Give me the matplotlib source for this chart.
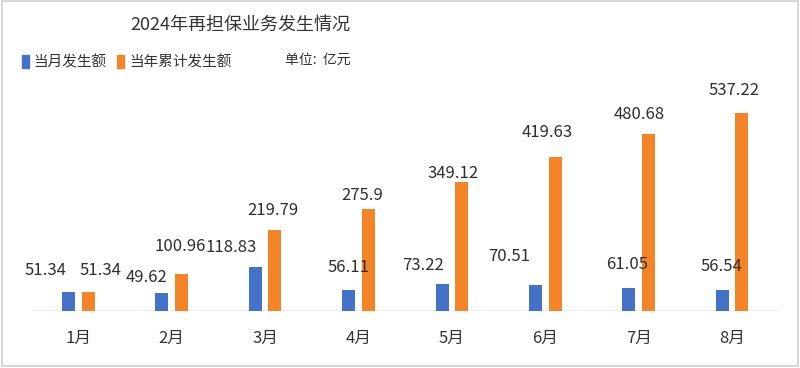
import numpy as np
import matplotlib.pyplot as plt
from matplotlib.patches import Rectangle

plt.rcParams['font.family'] = ['Noto Sans CJK SC', 'DejaVu Sans']

months = ['1月', '2月', '3月', '4月', '5月', '6月', '7月', '8月']
monthly = [51.34, 49.62, 118.83, 56.11, 73.22, 70.51, 61.05, 56.54]
cumulative = [51.34, 100.96, 219.79, 275.9, 349.12, 419.63, 480.68, 537.22]
monthly_text = ['51.34', '49.62', '118.83', '56.11', '73.22', '70.51', '61.05', '56.54']
cumul_text = ['51.34', '100.96', '219.79', '275.9', '349.12', '419.63', '480.68', '537.22']

# label nudges (pixels), the source chart has them a bit scattered
m_dx = [-23, -15, -24, 0, -19, -26, -2, -1]
m_dy = [22, 15, 20, 23, 19, 29, 24, 24]
c_dx = [12, -1, -2, -6, -9, -8, -9, -8]
c_dy = [22, 27, 20, 14, 9, 24, 20, 23]

blue = '#4472C8'
orange = '#F38428'

fig = plt.figure(figsize=(8, 3.68), dpi=100)
ax = fig.add_axes([0.0395, 0.155, 0.934, 0.60])

x = np.arange(len(months))
w = 0.14
ax.bar(x - 0.105, monthly, w, color=blue, zorder=3)
ax.bar(x + 0.105, cumulative, w, color=orange, zorder=3)
ax.axhline(0, color='#ebebeb', lw=1.2, zorder=1)

for i in range(len(months)):
    ax.annotate(monthly_text[i], (x[i] - 0.105, monthly[i]), xytext=(m_dx[i], m_dy[i]),
                textcoords='offset pixels', ha='center', va='center', fontsize=12, color='#2e2e2e')
    ax.annotate(cumul_text[i], (x[i] + 0.105, cumulative[i]), xytext=(c_dx[i], c_dy[i]),
                textcoords='offset pixels', ha='center', va='center', fontsize=12, color='#2e2e2e')

ax.set_xlim(-0.5, len(months) - 0.5)
ax.set_ylim(0, 600)
ax.set_xticks(x)
ax.set_xticklabels(months, fontsize=12, color='#333333')
ax.tick_params(axis='x', length=0, pad=14)
ax.set_yticks([])
for s in ax.spines.values():
    s.set_visible(False)

fig.text(240 / 800, 1 - 25 / 368, '2024年再担保业务发生情况', ha='center', va='center',
         fontsize=13, color='#333333')

# legend row
fig.patches.append(Rectangle((22 / 800, 1 - 68 / 368), 7 / 800, 13 / 368, transform=fig.transFigure,
                             color=blue, figure=fig))
fig.text(33 / 800, 1 - 62 / 368, '当月发生额', ha='left', va='center', fontsize=10.5, color='#333333')
fig.patches.append(Rectangle((117 / 800, 1 - 68 / 368), 7 / 800, 13 / 368, transform=fig.transFigure,
                             color=orange, figure=fig))
fig.text(129 / 800, 1 - 62 / 368, '当年累计发生额', ha='left', va='center', fontsize=10.5, color='#333333')
fig.text(285 / 800, 1 - 60 / 368, '单位:  亿元', ha='left', va='center', fontsize=10, color='#333333')

# thin frame round the picture
fig.patches.append(Rectangle((0.002, 0.006), 0.996, 0.99, transform=fig.transFigure,
                             fill=False, edgecolor='#d0d0d0', lw=1.2, figure=fig))

fig.savefig('out.png', dpi=100)
